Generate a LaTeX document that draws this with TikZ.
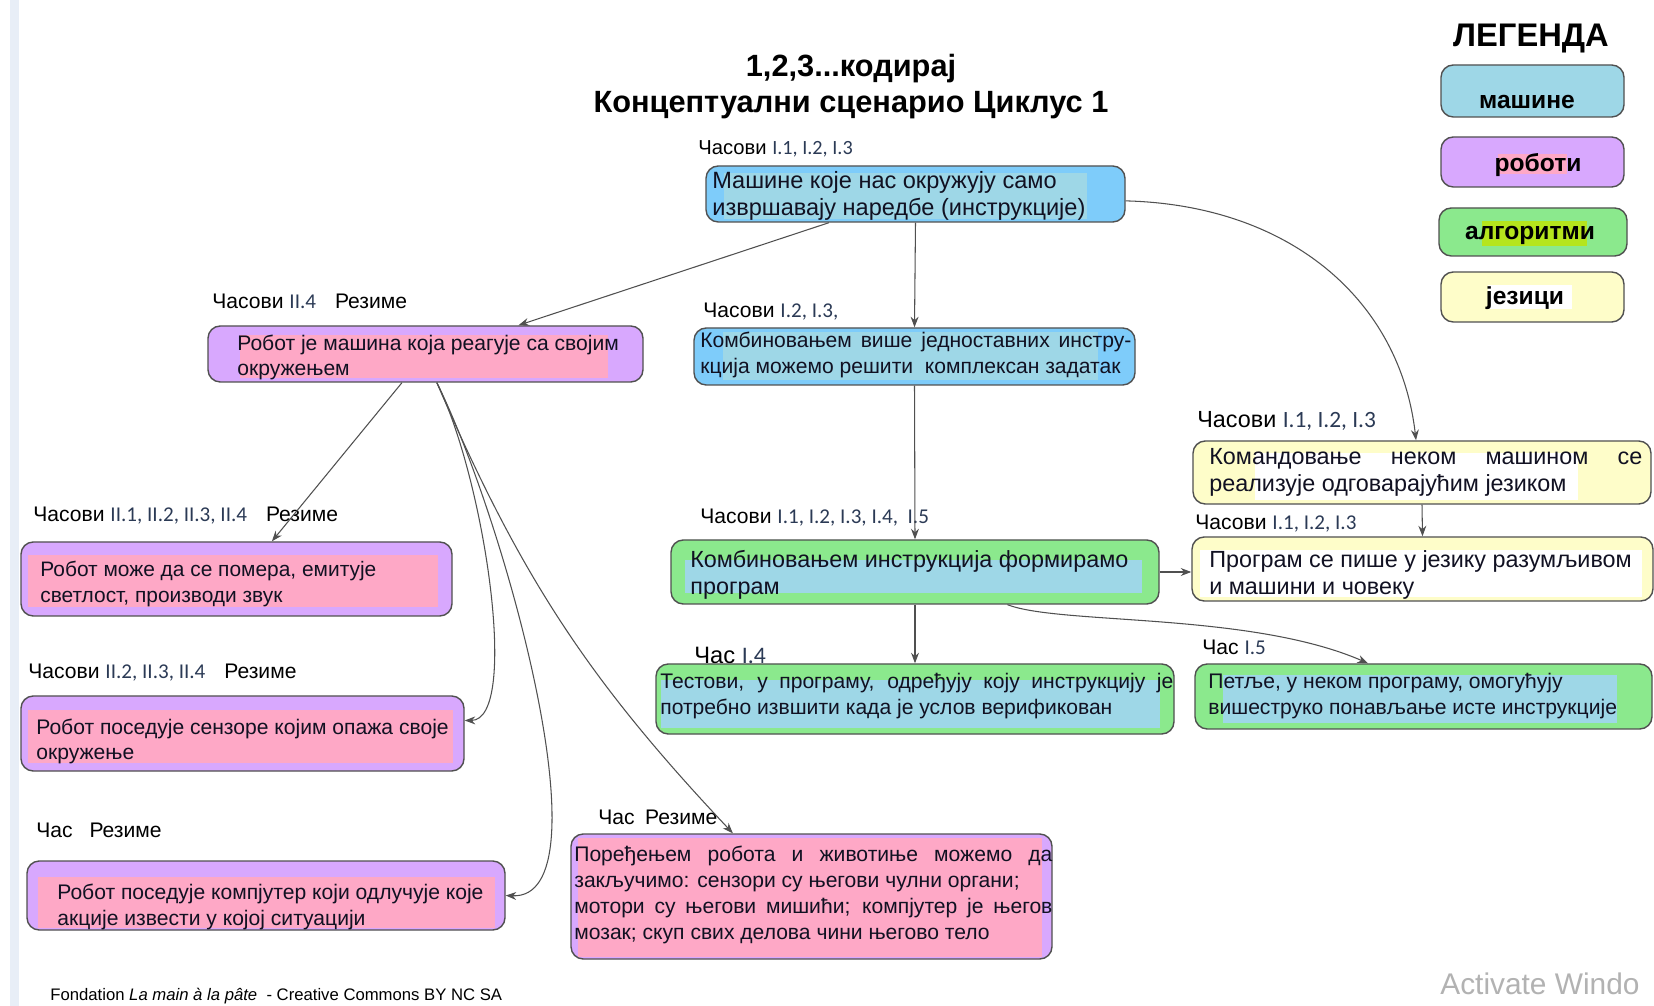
\documentclass[tikz,border=0pt]{standalone}
\usepackage{fontspec}
\setmainfont{Liberation Sans}
\newfontfamily\carl{Carlito}
\usetikzlibrary{arrows.meta,calc,fit}
\definecolor{sky}{HTML}{7ECCFA}
\definecolor{hlblue}{HTML}{9ED7E7}
\definecolor{purp}{HTML}{D8A8FE}
\definecolor{pinkhl}{HTML}{FEA8C6}
\definecolor{grn}{HTML}{8BE98D}
\definecolor{ylw}{HTML}{FEFDC9}
\definecolor{lime}{HTML}{B5E51D}
\definecolor{edgec}{HTML}{505050}
\definecolor{numc}{HTML}{2B3A55}
\definecolor{stripc}{HTML}{E8EEF7}
\definecolor{txtc}{HTML}{111122}
\newlength{\pxu}\setlength{\pxu}{0.02cm}
\newcommand{\nm}[1]{{\carl\color{numc}#1}}
\newcommand{\myfs}[2]{\fontsize{#1}{#2}\selectfont}
\newcommand{\jl}[2]{\makebox[#1\pxu][s]{#2}}
\begin{document}
\begin{tikzpicture}[x=0.02cm,y=-0.02cm,
  box/.style={draw=edgec, line width=0.8pt, rounded corners=7pt, inner sep=0pt},
  txt/.style={inner sep=0pt, anchor=west, align=left, text=txtc},
  lbl/.style={inner sep=0pt, anchor=west, text=black},
  conn/.style={draw=edgec, line width=0.6pt, -{Stealth[length=6pt,width=4.5pt]}}]
\useasboundingbox (0,0) rectangle (1654,1006);
\fill[white] (0,0) rectangle (1654,1006);
\fill[stripc] (10,0) rectangle (19,1006);

% title
\node[font=\bfseries\myfs{17.5pt}{20pt}] (t1) at (851,69) {1,2,3...кодирај};
\node[font=\bfseries\myfs{17.5pt}{20pt}] (t2) at (851,105) {Концептуални сценарио Циклус 1};

% legend
\node[font=\bfseries\myfs{18.6pt}{20pt}] (leg) at (1531,39) {ЛЕГЕНДА};
\node[box, fill=hlblue, fit={(1441,65) (1624,117)}] (lg1) {};
\node[font=\bfseries\myfs{14pt}{16pt}] (lg1t) at (1527,102) {машине};
\node[box, fill=purp, fit={(1441,137) (1624,187)}] (lg2) {};
\fill[pinkhl] (1498,154) rectangle (1567,174);
\node[font=\bfseries\myfs{14pt}{16pt}] (lg2t) at (1538,165) {роботи};
\node[box, fill=grn, fit={(1439,208) (1627,256)}] (lg3) {};
\fill[lime] (1482,221) rectangle (1587,246);
\node[font=\bfseries\myfs{14pt}{16pt}] (lg3t) at (1530,235) {алгоритми};
\node[box, fill=ylw, fit={(1441,272) (1624,322)}] (lg4) {};
\fill[white] (1488,285) rectangle (1572,309);
\node[font=\bfseries\myfs{14pt}{16pt}] (lg4t) at (1525,298) {језици};

% A
\node[lbl, font=\myfs{11.5pt}{13pt}] (Al) at (698,149) {Часови \nm{I.1, I.2, I.3}};
\node[box, fill=sky, fit={(706,166) (1125,222)}] (A) {};
\fill[hlblue] (724,173) rectangle (1087,219);
\node[txt, font=\myfs{13.4pt}{15.8pt}] (At) at (712,196) {Машине које нас окружују само\\извршавају наредбе (инструкције)};

% B
\node[lbl, font=\myfs{12pt}{14pt}] (Bl) at (212,301) {Часови \nm{II.4}\hspace{0.9em}Резиме};
\node[box, fill=purp, fit={(208,326) (643,382)}] (B) {};
\fill[pinkhl] (240,335) rectangle (608,378);
\node[txt, font=\myfs{12pt}{14.2pt}] (Bt) at (237,357) {Робот је машина која реагује са својим\\окружењем};

% C
\node[lbl, font=\myfs{12pt}{14pt}] (Cl) at (703,312) {Часови \nm{I.2, I.3,}};
\node[box, fill=sky, fit={(694,328) (1135,385)}] (C) {};
\fill[hlblue] (723,332) rectangle (1098,380);
\node[txt, font=\myfs{12pt}{14.7pt}] (Ct) at (700,355) {\jl{431}{Комбиновањем више једноставних инстру-}\\кција можемо решити\ \ комплексан задатак};

% D
\node[lbl, font=\myfs{13.3pt}{15pt}] (Dl) at (1197,421) {Часови \nm{I.1, I.2, I.3}};
\node[box, fill=ylw, fit={(1193,441) (1651,504)}] (D) {};
\fill[white] (1255,453) rectangle (1578,500);
\node[txt, font=\myfs{13.3pt}{15.3pt}] (Dt) at (1209,472) {\jl{433}{Командовање неком машином се}\\реализује одговарајућим језиком};

% E
\node[lbl, font=\myfs{12pt}{14pt}] (El) at (1195,524) {Часови \nm{I.1, I.2, I.3}};
\node[box, fill=ylw, fit={(1192,537) (1653,601)}] (E) {};
\fill[white] (1200,550) rectangle (1642,597);
\node[txt, font=\myfs{13.3pt}{15.3pt}] (Et) at (1209,575) {Програм се пише у језику разумљивом\\и машини и човеку};

% F
\node[lbl, font=\myfs{12pt}{14pt}] (Fl) at (700,518) {Часови \nm{I.1, I.2, I.3, I.4,\ \ I.5}};
\node[box, fill=grn, fit={(671,540) (1159,604)}] (F) {};
\fill[hlblue] (685,560) rectangle (1142,593);
\node[txt, font=\myfs{13.3pt}{15.3pt}] (Ft) at (690,575) {Комбиновањем инструкција формирамо\\програм};

% G
\node[lbl, font=\myfs{13.5pt}{15pt}] (Gl) at (694,655) {Час \nm{I.4}};
\node[box, fill=grn, fit={(656,664) (1174,734)}] (G) {};
\fill[hlblue] (661,680) rectangle (1160,728);
\node[txt, font=\myfs{12pt}{15.3pt}] (Gt) at (660,696) {\jl{513}{Тестови, у програму, одређују коју инструкцију је}\\потребно извшити када је услов верификован};

% H
\node[lbl, font=\myfs{12pt}{14pt}] (Hl) at (1202,647) {Час \nm{I.5}};
\node[box, fill=grn, fit={(1195,664) (1652,729)}] (H) {};
\fill[hlblue] (1223,675) rectangle (1617,723);
\node[txt, font=\myfs{12pt}{15.3pt}] (Ht) at (1208,696) {Петље, у неком програму, омогућују\\вишеструко понављање исте инструкције};

% I
\node[lbl, font=\myfs{12pt}{14pt}] (Il) at (33,516) {Часови \nm{II.1, II.2, II.3, II.4}\hspace{0.9em}Резиме};
\node[box, fill=purp, fit={(21,542) (452,616)}] (I) {};
\fill[pinkhl] (28,555) rectangle (438,607);
\node[txt, font=\myfs{11.9pt}{14.7pt}] (It) at (40,584) {Робот може да се помера, емитује\\светлост, производи звук};

% J
\node[lbl, font=\myfs{12pt}{14pt}] (Jl) at (28,673) {Часови \nm{II.2, II.3, II.4}\hspace{0.9em}Резиме};
\node[box, fill=purp, fit={(21,696) (464,771)}] (J) {};
\fill[pinkhl] (28,710) rectangle (453,763);
\node[txt, font=\myfs{12pt}{14.2pt}] (Jt) at (36,741) {Робот поседује сензоре којим опажа своје\\окружење};

% K
\node[lbl, font=\myfs{12pt}{14pt}] (Kl) at (36,830) {Час\hspace{0.8em}Резиме};
\node[box, fill=purp, fit={(27,861) (505,930)}] (K) {};
\fill[pinkhl] (38,877) rectangle (495,928);
\node[txt, font=\myfs{12pt}{14.7pt}] (Kt) at (57,907) {Робот поседује компјутер који одлучује које\\акције извести у којој ситуацији};

% L
\node[lbl, font=\myfs{12pt}{14pt}] (Ll) at (598,817) {Час\hspace{0.5em}Резиме};
\node[box, fill=purp, fit={(571,834) (1052,959)}] (L) {};
\fill[pinkhl] (578,838) rectangle (1042,957);
\node[txt, font=\myfs{12pt}{14.7pt}] (Lt) at (574,895) {\jl{478}{Поређењем робота и животиње можемо да}\\закључимо: сензори су његови чулни органи;\\\jl{478}{мотори су његови мишићи; компјутер је његов}\\мозак; скуп свих делова чини његово тело};

% footer
\node[lbl, font=\myfs{9.5pt}{11pt}] (foot) at (50,996) {Fondation \textit{La main à la pâte}\ \ - Creative Commons BY NC SA};
\node[lbl, font=\myfs{17pt}{19pt}, text=black!30] (wm) at (1440,984) {Activate Windo};

% connector points
\coordinate (As1) at ($(A.south west)!0.294!(A.south east)$);
\coordinate (Ae) at ($(A.north east)!0.62!(A.south east)$);
\coordinate (Bn) at ($(B.north west)!0.713!(B.north east)$);
\coordinate (Bs1) at ($(B.south west)!0.446!(B.south east)$);
\coordinate (Bs2) at ($(B.south west)!0.526!(B.south east)$);
\coordinate (Dn) at ($(D.north west)!0.487!(D.north east)$);
\coordinate (Fs) at ($(F.south west)!0.689!(F.south east)$);
\coordinate (Hn) at ($(H.north west)!0.379!(H.north east)$);
\coordinate (In) at ($(I.north west)!0.582!(I.north east)$);
\coordinate (Je) at ($(J.north east)!0.33!(J.south east)$);
\coordinate (Ln) at ($(L.north west)!0.337!(L.north east)$);

% connectors
\draw[conn] (As1) -- (Bn);
\draw[conn] (A.south) -- (C.north);
\draw[conn] (Ae) .. controls (1290,205) and (1400,300) .. (Dn);
\draw[conn] (C.south) -- (F.north);
\draw[conn] (D.south) -- (E.north);
\draw[conn] (F.east) -- (F.east -| E.west);
\draw[conn] (F.south) -- (G.north);
\draw[conn] (Fs) .. controls (1060,625) and (1250,612) .. (Hn);
\draw[conn] (Bs1) -- (In);
\draw[conn] (Bs2) .. controls (485,480) and (520,720) .. (Je);
\draw[conn] (Bs2) .. controls (505,520) and (610,900) .. (K.east);
\draw[conn] (Bs2) to[bend right=10] (Ln);
\end{tikzpicture}
\end{document}
